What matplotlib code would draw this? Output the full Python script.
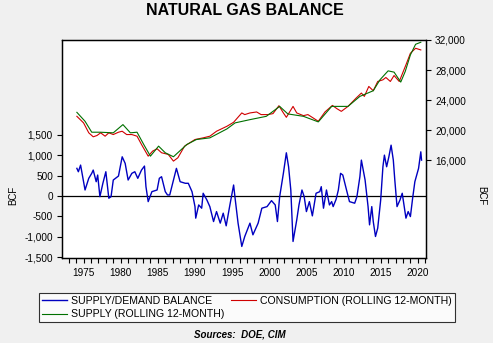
import matplotlib
matplotlib.use('Agg')
import matplotlib.pyplot as plt
from matplotlib.ticker import MultipleLocator, FuncFormatter

# supply/demand balance (left axis, BCF)
bal_year = [1974.1, 1974.3, 1974.6, 1975.2, 1975.7, 1976.1, 1976.3, 1976.7, 1976.9, 1977.2,
            1977.6, 1978.0, 1978.4, 1978.7, 1979.0, 1979.7, 1980.2, 1980.6, 1981.0, 1981.5,
            1981.9, 1982.3, 1982.8, 1983.2, 1983.4, 1983.7, 1984.2, 1984.9, 1985.2, 1985.5,
            1986.0, 1986.3, 1986.6, 1987.5, 1988.0, 1988.7, 1989.1, 1989.6, 1990.0, 1990.1,
            1990.5, 1990.9, 1991.1, 1991.6, 1992.0, 1992.5, 1992.9, 1993.4, 1993.8, 1994.2,
            1994.7, 1995.2, 1995.4, 1995.8, 1996.3, 1996.7, 1997.4, 1997.8, 1998.5, 1999.0,
            1999.7, 2000.3, 2000.8, 2001.1, 2001.4, 2001.9, 2002.3, 2002.6, 2002.9, 2003.2,
            2003.7, 2004.0, 2004.4, 2004.7, 2005.0, 2005.4, 2005.8, 2006.3, 2006.8, 2007.0,
            2007.3, 2007.7, 2008.1, 2008.4, 2008.6, 2009.0, 2009.3, 2009.6, 2009.9, 2010.4,
            2010.8, 2011.5, 2011.8, 2012.2, 2012.4, 2012.9, 2013.3, 2013.5, 2013.8, 2014.0,
            2014.3, 2014.6, 2015.0, 2015.3, 2015.5, 2015.8, 2016.1, 2016.4, 2016.7, 2016.9,
            2017.2, 2017.6, 2017.9, 2018.4, 2018.7, 2019.0, 2019.3, 2019.6, 2020.1, 2020.4,
            2020.5]
bal_value = [676, 593, 756, 146, 432, 554, 634, 349, 512, -17,
             310, 593, -56, -17, 390, 488, 959, 798, 390, 554,
             593, 432, 634, 732, 227, -139, 105, 146, 432, 471,
             105, 24, 24, 676, 349, 310, 310, 105, -261, -544,
             -220, -300, 66, -98, -261, -627, -383, -666, -422, -732,
             -220, 268, -56, -666, -1237, -993, -666, -952, -666, -300,
             -261, -115, -220, -627, -17, 554, 1057, 715, 146, -1115,
             -586, -220, 146, -17, -383, -139, -488, 66, 105, 227,
             -300, 146, -220, -139, -261, -81, 146, 554, 512, 146,
             -139, -178, -17, 471, 878, 390, -261, -708, -261, -627,
             -993, -788, -98, 715, 1000, 715, 959, 1244, 878, 390,
             -261, -98, 66, -544, -383, -505, -56, 349, 676, 1081,
             878]

# consumption, rolling 12-month (right axis, BCF)
con_year = [1974.1, 1975.0, 1975.7, 1976.3, 1976.8, 1977.3, 1977.9, 1978.4, 1979.0, 1979.7,
            1980.2, 1980.8, 1981.5, 1982.2, 1982.8, 1983.7, 1984.3, 1984.9, 1985.5, 1986.4,
            1987.1, 1987.7, 1988.6, 1990.0, 1991.1, 1992.0, 1992.9, 1994.3, 1995.2, 1996.3,
            1996.7, 1997.4, 1998.3, 1998.9, 1999.8, 2000.5, 2001.3, 2001.9, 2002.3, 2003.2,
            2003.7, 2004.6, 2005.2, 2005.9, 2006.6, 2007.5, 2008.5, 2009.1, 2009.7, 2010.6,
            2011.7, 2012.4, 2012.8, 2013.4, 2014.0, 2014.6, 2015.3, 2015.7, 2016.3, 2016.8,
            2017.5, 2018.4, 2019.0, 2019.7, 2020.4]
con_value = [21860, 20990, 19670, 19140, 19310, 19670, 19220, 19670, 19440, 19750,
             19880, 19440, 19440, 19220, 18120, 16570, 17240, 17550, 17020, 16800,
             15910, 16360, 17900, 18780, 19000, 19220, 19880, 20540, 21070, 22310,
             22090, 22310, 22440, 22090, 22090, 22220, 23270, 22310, 21730, 23180,
             22310, 21950, 22090, 21650, 21200, 22440, 23310, 22880, 22520, 23180,
             24290, 24950, 24510, 25830, 25260, 26490, 26710, 27020, 26490, 27280,
             26490, 28700, 30240, 30900, 30680]

# supply, rolling 12-month (right axis, BCF)
sup_year = [1974.1, 1975.2, 1976.1, 1977.2, 1979.0, 1980.3, 1981.3, 1982.2, 1983.1, 1984.0,
            1985.1, 1986.0, 1987.1, 1988.9, 1990.2, 1992.0, 1994.3, 1995.4, 1997.4, 1999.6,
            2001.4, 2002.5, 2004.6, 2006.6, 2008.4, 2010.6, 2012.2, 2014.0, 2014.9, 2016.0,
            2016.8, 2017.7, 2018.3, 2019.0, 2019.7, 2020.4]
sup_value = [22390, 21200, 19750, 19750, 19670, 20760, 19670, 19750, 18120, 16570,
             17900, 17020, 16490, 18120, 18780, 19000, 20190, 20990, 21420, 21860,
             23180, 22180, 21860, 21120, 23180, 23180, 24510, 25260, 26710, 27900,
             27730, 26410, 27810, 30020, 31430, 31700]

left_ticks = [-1500, -1000, -500, 0, 500, 1000, 1500]
right_ticks = [16000, 20000, 24000, 28000, 32000]
year_ticks = [1975, 1980, 1985, 1990, 1995, 2000, 2005, 2010, 2015, 2020]

plt.rcParams['font.family'] = ['Liberation Sans', 'DejaVu Sans']
bg = '#f0f0f0'

fig = plt.figure(figsize=(4.93, 3.43), dpi=100, facecolor=bg)
ax = fig.add_axes([0.1258, 0.2478, 0.7383, 0.6356])
ax2 = ax.twinx()

ax.plot(bal_year, bal_value, color='#0000c0', linewidth=1.0, zorder=3)
ax.axhline(0, color='black', linewidth=0.9, zorder=2)
ax2.plot(con_year, con_value, color='#d00000', linewidth=0.8)
ax2.plot(sup_year, sup_value, color='#007000', linewidth=0.8)

ax.set_xlim(1972.1, 2021.1)
ax.set_ylim(-1520, 3820)
ax2.set_ylim(3040, 32000)

ax.set_yticks(left_ticks)
ax2.set_yticks(right_ticks)
ax.set_xticks(year_ticks)
ax.xaxis.set_minor_locator(MultipleLocator(1))
comma = FuncFormatter(lambda v, p: f'{int(v):,}')
ax.yaxis.set_major_formatter(comma)
ax2.yaxis.set_major_formatter(comma)

for a in (ax, ax2):
    a.tick_params(axis='both', which='major', labelsize=7.2, length=3.5, width=0.8, direction='out', pad=3)
    a.tick_params(axis='x', which='minor', length=3.5, width=0.8, direction='out')
    for s in a.spines.values():
        s.set_linewidth(0.9)
ax.tick_params(axis='x', pad=4)

fig.text(0.026, 0.43, 'BCF', rotation=90, fontsize=7, ha='center', va='center')
fig.text(0.977, 0.43, 'BCF', rotation=270, fontsize=7, ha='center', va='center')
fig.text(0.497, 0.968, 'NATURAL GAS BALANCE', fontsize=11.5, fontweight='bold', ha='center', va='center')

handles = [ax.lines[0], ax2.lines[1], ax2.lines[0]]
labels = ['SUPPLY/DEMAND BALANCE', 'SUPPLY (ROLLING 12-MONTH)', 'CONSUMPTION (ROLLING 12-MONTH)']
leg = fig.legend(handles, labels, ncol=2, loc='upper left', bbox_to_anchor=(0.079, 0.146),
                 fontsize=7.6, frameon=True, fancybox=False, handlelength=2.4, handletextpad=0.35,
                 labelspacing=0.3, borderpad=0.3, columnspacing=0.6, borderaxespad=0)
leg.get_frame().set_edgecolor('black')
leg.get_frame().set_linewidth(0.8)
leg.get_frame().set_facecolor('white')

fig.text(0.487, 0.026, 'Sources:  DOE, CIM', fontsize=7, fontweight='bold', fontstyle='italic',
         ha='center', va='center')

fig.savefig('out.png', dpi=100, facecolor=bg)
